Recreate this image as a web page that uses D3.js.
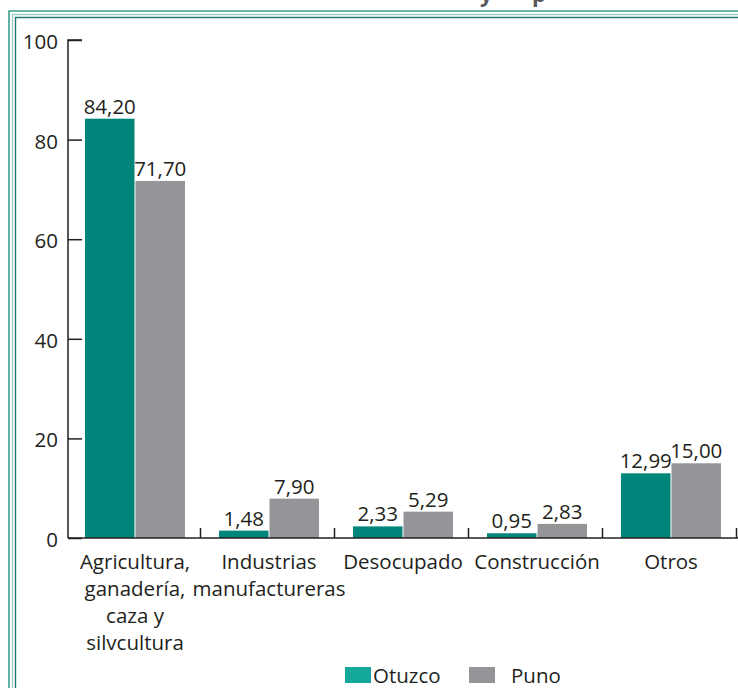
<!DOCTYPE html>
<html>
<head>
<meta charset="utf-8">
<script src="https://cdn.jsdelivr.net/npm/d3@7"></script>
<style>
  body { margin: 0; background: #fff; }
  text { font-family: "Open Sans", "Noto Sans", sans-serif; fill: #231f20; }
</style>
</head>
<body>
<div class="chart"></div>
<script>
var categories = [
    ["Agricultura,", "ganadería,", "caza y", "silvcultura"],
    ["Industrias", "manufactureras"],
    ["Desocupado"],
    ["Construcción"],
    ["Otros"]
];
var series = ["Otuzco", "Puno"];
var otuzco = [84.20, 1.48, 2.33, 0.95, 12.99];
var puno = [71.70, 7.90, 5.29, 2.83, 15.00];
var yTicks = [0, 20, 40, 60, 80, 100];

var colorKey = {
    "Otuzco": "#00857a",
    "Puno": "#939598"
}
var legendKey = {
    "Otuzco": "#14a89a",
    "Puno": "#939598"
}

var width = 738, height = 688;
var fs = "20.5px";

var svg = d3.select(".chart")
    .append("svg")
    .attr("width", width)
    .attr("height", height)

// frame (double line top and left)
var frame = [
    {o: 9, c: "#3a9e8e", w: 1.6},
    {o: 12.5, c: "#9ccfc6", w: 1.4},
    {o: 15.5, c: "#1f7e70", w: 1.4}
];
frame.forEach(function(f) {
    svg.append("path")
        .attr("d", "M" + f.o + "," + height + "V" + (f.o + 2) + "H" + width)
        .attr("fill", "none")
        .attr("stroke", f.c)
        .attr("stroke-width", f.w);
});

// title remnant (only its lower part shows above the frame)
[["y", 480], ["p", 532]].forEach(function(t) {
    svg.append("text")
        .attr("x", t[1])
        .attr("y", 2)
        .style("font-size", "22px")
        .style("font-weight", "bold")
        .style("fill", "#58595b")
        .text(t[0]);
});

var x0 = d3.scaleBand()
    .domain(d3.range(categories.length))
    .range([68, 738])

var x1 = d3.scaleBand()
    .domain(series)
    .range([17, x0.bandwidth() - 17])
    .paddingInner(0.02)

var y = d3.scaleLinear()
    .domain([0, 100])
    .range([538, 40])

// bars
var group = svg.selectAll(".group")
    .data(categories)
    .enter().append("g")
    .attr("class", "group")
    .attr("transform", function(d, i) {
        return "translate(" + x0(i) + ",0)";
    })

group.each(function(d, i) {
    var g = d3.select(this);
    var vals = [otuzco[i], puno[i]];
    series.forEach(function(s, j) {
        g.append("rect")
            .attr("x", x1(s))
            .attr("y", y(vals[j]))
            .attr("width", x1.bandwidth())
            .attr("height", y(0) - y(vals[j]))
            .attr("fill", colorKey[s]);
        g.append("text")
            .attr("x", x1(s) + x1.bandwidth() / 2)
            .attr("y", y(vals[j]) - 5)
            .style("text-anchor", "middle")
            .style("font-size", fs)
            .text(vals[j].toFixed(2).replace(".", ","));
    });
    var label = g.append("text")
        .attr("x", x0.bandwidth() / 2)
        .attr("y", 569)
        .style("text-anchor", "middle")
        .style("font-size", fs)
    d.forEach(function(line, k) {
        label.append("tspan")
            .attr("x", x0.bandwidth() / 2)
            .attr("dy", k == 0 ? 0 : 27)
            .text(line);
    });
})

// y axis
var yAxis = d3.axisRight(y)
    .tickValues(yTicks)
    .tickSize(14)
    .tickFormat("")
svg.append("g")
    .attr("transform", "translate(68,0)")
    .call(yAxis)
    .call(function(g) {
        g.select(".domain").attr("d", "M14,40H0V538").attr("stroke", "#231f20").attr("stroke-width", 1.5);
        g.selectAll(".tick line").attr("stroke", "#231f20").attr("stroke-width", 1.5);
    })

svg.selectAll(".ylabel")
    .data(yTicks)
    .enter().append("text")
    .attr("class", "ylabel")
    .attr("x", 58)
    .attr("y", function(d) { return y(d) + 9; })
    .style("text-anchor", "end")
    .style("font-size", fs)
    .text(function(d) { return d; })

// x axis
var xAxis = d3.axisTop(d3.scaleLinear().domain([0, categories.length]).range([68, 738]))
    .tickValues(d3.range(1, categories.length + 1))
    .tickSize(10)
    .tickFormat("")
svg.append("g")
    .attr("transform", "translate(0," + y(0) + ")")
    .call(xAxis)
    .call(function(g) {
        g.select(".domain").attr("d", "M68,0H738").attr("stroke", "#231f20").attr("stroke-width", 1.5);
        g.selectAll(".tick line").attr("stroke", "#231f20").attr("stroke-width", 1.5)
            .attr("transform", "translate(-2,0)");
    })

// legend
var legendX = [345, 469];
var legendTextX = [373, 511];
var legend = svg.selectAll(".legendItem")
    .data(series)
    .enter().append("g")
    .attr("class", "legendItem")

legend.append("rect")
    .attr("x", function(d, i) { return legendX[i]; })
    .attr("y", 667)
    .attr("width", 26)
    .attr("height", 16)
    .attr("fill", function(d) { return legendKey[d]; })

legend.append("text")
    .attr("x", function(d, i) { return legendTextX[i]; })
    .attr("y", 683)
    .style("font-size", fs)
    .text(function(d) { return d; })
</script>
</body>
</html>
